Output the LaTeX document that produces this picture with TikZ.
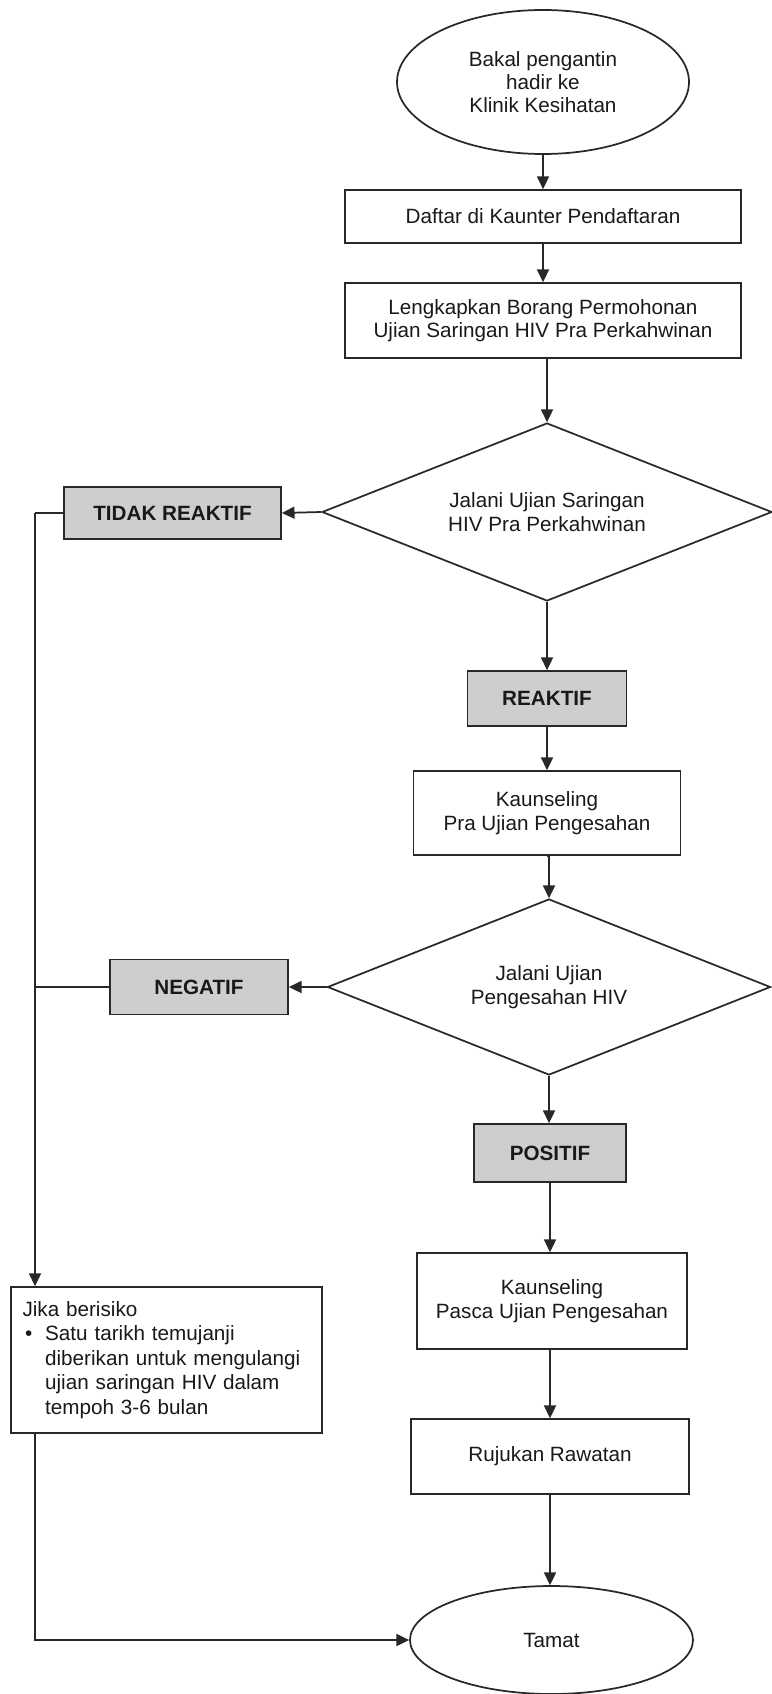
\documentclass[tikz,border=0pt]{standalone}
\usepackage{fontspec}
\setmainfont{Liberation Sans}
\usepackage{tikz}
\usetikzlibrary{shapes.geometric}
\usetikzlibrary{arrows.meta}

\tikzset{
  base/.style={draw={rgb,255:red,40;green,40;blue,40}, line width=1.3pt, text={rgb,255:red,25;green,25;blue,25},
    font=\fontsize{15.5}{17.5}\selectfont, align=center, inner sep=0pt},
  terminal/.style={base, ellipse},
  prosesbox/.style={base, rectangle},
  hasilbox/.style={base, rectangle, fill={rgb,255:red,206;green,206;blue,206}, font=\fontsize{15.5}{17.5}\selectfont\bfseries},
  keputusan/.style={base, diamond, aspect=2.5},
  alir/.style={draw={rgb,255:red,40;green,40;blue,40}, line width=1.3pt, -{Triangle[length=9.5pt,width=9pt]}},
  garis/.style={draw={rgb,255:red,40;green,40;blue,40}, line width=1.1pt}
}

\begin{document}
\begin{tikzpicture}[x=0.75pt,y=0.75pt,yscale=-1,xscale=1]

    \useasboundingbox (0,0) rectangle (771,1694); %set diagram to 771 x 1694

    %Shape: Ellipse
    \node[terminal, minimum width=219pt, minimum height=108pt] (mula) at (543,82) {Bakal pengantin\\hadir ke\\Klinik Kesihatan};
    %Shape: Rectangle
    \node[prosesbox, minimum width=297pt, minimum height=39.75pt] (daftar) at (543,216.5) {Daftar di Kaunter Pendaftaran};
    %Shape: Rectangle
    \node[prosesbox, minimum width=297pt, minimum height=56.25pt] (borang) at (543,320.5) {Lengkapkan Borang Permohonan\\Ujian Saringan HIV Pra Perkahwinan};
    %Shape: Diamond
    \node[keputusan, minimum width=337.5pt, minimum height=133.5pt] (saring) at (547,512) {Jalani Ujian Saringan\\HIV Pra Perkahwinan};
    %Shape: Rectangle
    \node[hasilbox, minimum width=162.75pt, minimum height=39pt] (tidak) at (172.5,513) {TIDAK REAKTIF};
    %Shape: Rectangle
    \node[hasilbox, minimum width=119.25pt, minimum height=41.25pt] (reaktif) at (547,698.5) {REAKTIF};
    %Shape: Rectangle
    \node[prosesbox, minimum width=200.25pt, minimum height=63pt] (kpra) at (547,813) {Kaunseling\\Pra Ujian Pengesahan};
    %Shape: Diamond
    \node[keputusan, minimum width=332.25pt, minimum height=132pt] (sah) at (549,987) {Jalani Ujian\\Pengesahan HIV};
    %Shape: Rectangle
    \node[hasilbox, minimum width=133.5pt, minimum height=41.25pt] (negatif) at (199,987) {NEGATIF};
    %Shape: Rectangle
    \node[hasilbox, minimum width=114pt, minimum height=43.5pt] (positif) at (550,1153) {POSITIF};
    %Shape: Rectangle
    \node[prosesbox, minimum width=202.5pt, minimum height=72pt] (kpasca) at (552,1301) {Kaunseling\\Pasca Ujian Pengesahan};
    %Shape: Rectangle
    \node[prosesbox, minimum width=208.5pt, minimum height=56.25pt] (rujukan) at (550,1456.5) {Rujukan Rawatan};
    %Shape: Ellipse
    \node[terminal, minimum width=212.25pt, minimum height=81pt] (tamat) at (551.5,1640) {Tamat};
    %Shape: Rectangle
    \node[prosesbox, minimum width=233.25pt, minimum height=109.5pt, text width=216pt, align=left,
      font=\fontsize{15.5}{18.4}\selectfont] (jika) at (166.5,1360)
      {Jika berisiko\\\hspace*{2pt}\makebox[15pt][l]{\textbullet}\parbox[t]{198pt}{Satu tarikh temujanji\\diberikan untuk mengulangi\\ujian saringan HIV dalam\\tempoh 3-6 bulan}};

    %Straight Lines
    \coordinate (rel) at (35,513);
    \draw[alir] (mula) -- (daftar);
    \draw[alir] (daftar) -- (borang);
    \draw[alir] (saring.north |- borang.south) -- (saring.north);
    \draw[alir] (saring.west) -- (tidak.east);
    \draw[alir] (saring) -- (reaktif);
    \draw[alir] (reaktif) -- (kpra);
    \draw[alir] (kpra.south) -- (kpra.south -| sah.north) -- (sah.north);
    \draw[alir] (sah.west) -- (negatif.east);
    \draw[alir] (sah.south) -- (sah.south |- positif.north);
    \draw[alir] (positif) -- (positif |- kpasca.north);
    \draw[alir] (kpasca.south -| positif) -- (positif |- rujukan.north);
    \draw[alir] (rujukan.south -| positif) -- (positif |- tamat.north);
    %Straight Lines
    \draw[garis] (tidak.west) -- (rel);
    \draw[alir, line width=1.1pt] (rel) -- (rel |- jika.north);
    \draw[garis] (negatif.west) -- (negatif.west -| rel);
    \draw[alir, line width=1.1pt] (rel |- jika.south) -- (rel |- tamat) -- (tamat.west);

\end{tikzpicture}
\end{document}
